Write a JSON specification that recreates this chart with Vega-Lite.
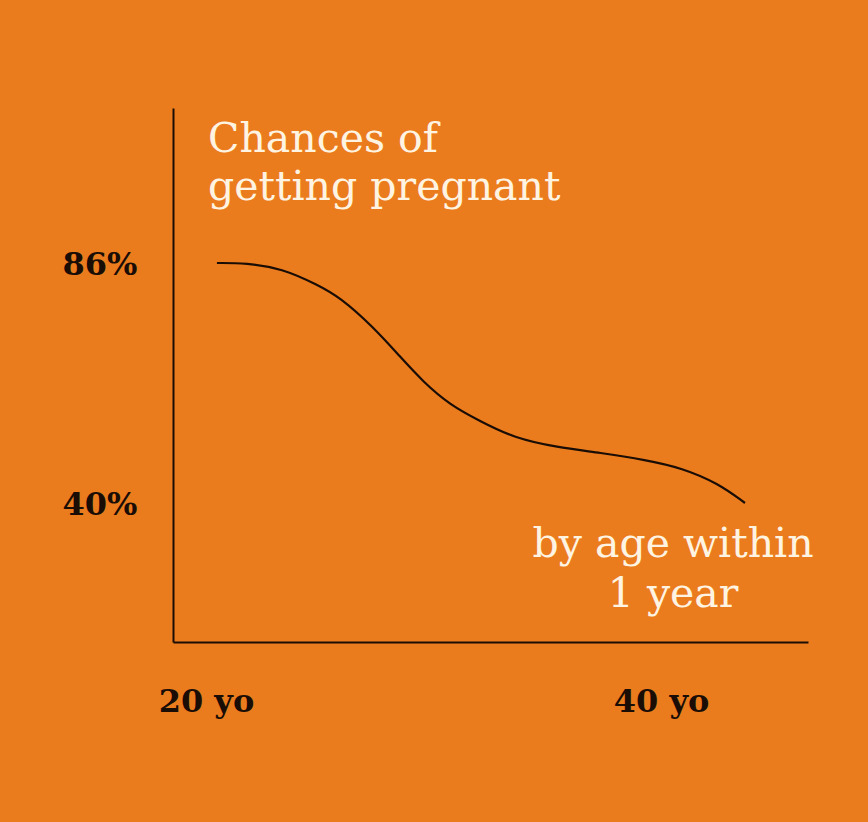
{
  "$schema": "https://vega.github.io/schema/vega-lite/v6.json",
  "width": 635,
  "height": 534,
  "autosize": {"type": "none"},
  "padding": {"left": 173, "top": 108, "right": 60, "bottom": 180},
  "background": "#EB7C1E",
  "config": {
    "view": {"stroke": null},
    "axis": {
      "grid": false,
      "ticks": false,
      "tickSize": 0,
      "domainColor": "#1a0d05",
      "domainWidth": 2,
      "labelFont": "DejaVu Serif",
      "labelFontWeight": "bold",
      "labelFontSize": 32,
      "labelColor": "#1a0d05",
      "title": null
    }
  },
  "datasets": {
    "curve": [
      {"age": 20.48, "pct": 86.0},
      {"age": 21.76, "pct": 86.0},
      {"age": 23.34, "pct": 84.98},
      {"age": 24.92, "pct": 81.77},
      {"age": 25.89, "pct": 79.40},
      {"age": 27.34, "pct": 73.74},
      {"age": 28.53, "pct": 67.97},
      {"age": 29.54, "pct": 63.15},
      {"age": 30.73, "pct": 58.67},
      {"age": 32.04, "pct": 55.59},
      {"age": 33.54, "pct": 52.32},
      {"age": 35.43, "pct": 50.53},
      {"age": 37.32, "pct": 49.49},
      {"age": 39.34, "pct": 48.09},
      {"age": 40.92, "pct": 46.55},
      {"age": 42.51, "pct": 43.60},
      {"age": 43.69, "pct": 39.81}
    ],
    "one": [{"k": 1}]
  },
  "layer": [
    {
      "data": {"name": "curve"},
      "mark": {"type": "line", "interpolate": "basis", "color": "#1a0d05", "strokeWidth": 2.2},
      "encoding": {
        "x": {
          "field": "age",
          "type": "quantitative",
          "scale": {"domain": [18.55, 46.46], "nice": false, "zero": false},
          "axis": {"values": [20, 40], "labelExpr": "datum.value + ' yo'", "labelPadding": 44, "labelBaseline": "top"}
        },
        "y": {
          "field": "pct",
          "type": "quantitative",
          "scale": {"domain": [13.06, 115.83], "nice": false, "zero": false},
          "axis": {"values": [40, 86], "labelExpr": "datum.value + '%'", "labelPadding": 36, "labelBaseline": "middle", "labelOffset": 2}
        }
      }
    },
    {
      "data": {"name": "one"},
      "mark": {
        "type": "text",
        "text": ["Chances of", "getting pregnant"],
        "align": "left",
        "baseline": "alphabetic",
        "font": "DejaVu Serif",
        "fontSize": 41,
        "lineHeight": 48,
        "color": "#FFF4E2"
      },
      "encoding": {
        "x": {"datum": 20.09, "type": "quantitative"},
        "y": {"datum": 107.36, "type": "quantitative"}
      }
    },
    {
      "data": {"name": "one"},
      "mark": {
        "type": "text",
        "text": ["by age within", "1 year"],
        "align": "center",
        "baseline": "alphabetic",
        "font": "DejaVu Serif",
        "fontSize": 41,
        "lineHeight": 50,
        "color": "#FFF4E2"
      },
      "encoding": {
        "x": {"datum": 40.53, "type": "quantitative"},
        "y": {"datum": 29.42, "type": "quantitative"}
      }
    }
  ]
}
